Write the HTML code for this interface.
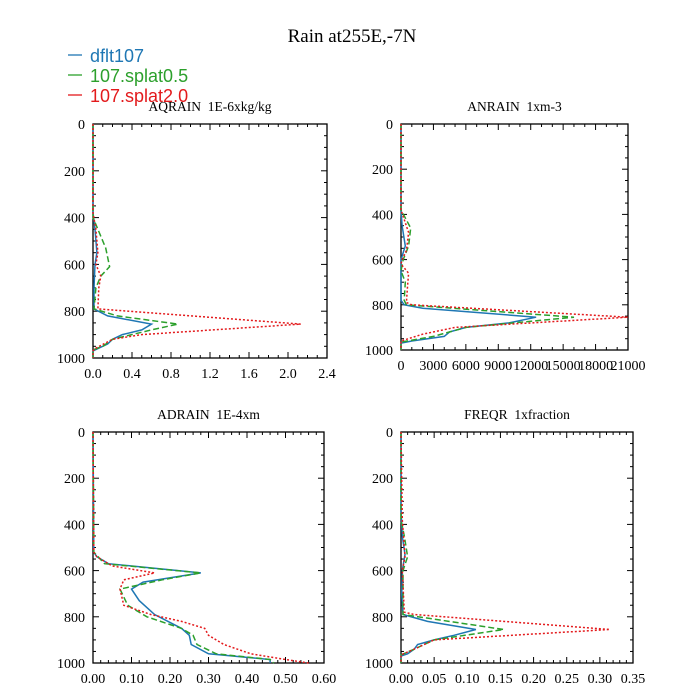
<!DOCTYPE html>
<html><head><meta charset="utf-8"><style>
body{margin:0;background:#fff;width:700px;height:700px;overflow:hidden}
svg{display:block}
</style></head><body>
<svg id="c" width="700" height="700" xmlns="http://www.w3.org/2000/svg">
<text x="352" y="42" text-anchor="middle" font-family="Liberation Serif, serif" font-size="19">Rain at255E,-7N</text>
<g font-family="Liberation Sans, sans-serif" font-size="18">
<g><line x1="68" y1="55" x2="82" y2="55" stroke="#1f77b4" stroke-width="1.3"/><text x="90" y="62" fill="#1f77b4">dflt107</text></g>
<g><line x1="68" y1="75" x2="82" y2="75" stroke="#2ca02c" stroke-width="1.3"/><text x="90" y="82" fill="#2ca02c">107.splat0.5</text></g>
<g><line x1="68" y1="95" x2="82" y2="95" stroke="#e31a1c" stroke-width="1.3"/><text x="90" y="102" fill="#e31a1c">107.splat2.0</text></g>
</g>
</svg>
<script>
// AQRAIN
const aqP_b=[0,380,450,550,600,700,790,820,855,880,900,920,940,960,970,1000];
const aqV_b=[0,0,0.02,0.04,0.02,0.01,0.01,0.15,0.6,0.5,0.3,0.2,0.15,0.05,0,0];
const aqP_g=[0,400,450,530,610,650,700,790,820,855,880,910,920,950,965,1000];
const aqV_g=[0,0,0.05,0.13,0.17,0.08,0.03,0.01,0.25,0.87,0.6,0.3,0.2,0.1,0,0];
const aqP_r=[0,380,450,550,600,650,700,790,855,900,920,960,970,1000];
const aqV_r=[0,0,0.03,0.05,0.03,0.08,0.06,0.05,2.13,0.5,0.2,0.02,0,0];
// ANRAIN
const anP_b=[0,380,450,540,600,780,800,815,855,880,900,920,940,960,970,1000];
const anV_b=[0,0,100,400,0,0,300,2000,12500,10000,6000,4500,4000,1000,0,0];
const anP_g=[0,380,460,540,600,650,700,780,800,855,900,940,965,1000];
const anV_g=[0,0,900,700,200,0,400,300,500,16000,6000,3000,0,0];
const anP_r=[0,380,480,560,600,620,660,720,790,800,855,900,930,960,1000];
const anV_r=[0,0,700,500,100,0,700,600,500,1000,21000,5000,2000,0,0];
// ADRAIN
const adP_b=[0,520,540,570,610,650,680,730,790,850,880,920,960,985,1000];
const adV_b=[0,0.002,0.01,0.04,0.28,0.13,0.1,0.12,0.16,0.23,0.25,0.255,0.3,0.46,0.46];
const adP_g=[0,520,570,610,640,680,750,800,850,880,920,960,985,1000];
const adV_g=[0,0.002,0.03,0.28,0.18,0.07,0.09,0.14,0.23,0.26,0.27,0.32,0.46,0.47];
const adP_r=[0,520,540,580,610,640,680,750,790,820,850,880,920,960,985,1000];
const adV_r=[0,0.002,0.01,0.05,0.16,0.08,0.07,0.08,0.15,0.23,0.29,0.3,0.34,0.41,0.5,0.56];
// FREQR
const frP_b=[0,340,450,530,600,700,790,820,855,880,900,920,940,960,970,1000];
const frV_b=[0,0,0.002,0.006,0.002,0.001,0.003,0.04,0.113,0.08,0.05,0.025,0.02,0.01,0,0];
const frP_g=[0,380,450,540,600,790,855,900,940,965,1000];
const frV_g=[0,0,0.005,0.01,0.003,0.003,0.155,0.05,0.02,0,0];
const frP_r=[0,380,540,600,780,790,855,900,940,965,1000];
const frV_r=[0,0.002,0.006,0.002,0.005,0.02,0.315,0.05,0.02,0,0];

const xt1=["0.0","0.4","0.8","1.2","1.6","2.0","2.4"];
const xt2=["0","3000","6000","9000","12000","15000","18000","21000"];
const xt3=["0.00","0.10","0.20","0.30","0.40","0.50","0.60"];
const xt4=["0.00","0.05","0.10","0.15","0.20","0.25","0.30","0.35"];
const yt=["0","200","400","600","800","1000"];

const svg=document.getElementById('c');
const NS='http://www.w3.org/2000/svg';
function mk(t,a,p){const e=document.createElementNS(NS,t);for(const k in a)e.setAttribute(k,a[k]);p.appendChild(e);return e;}
const styles={b:{stroke:'#1f77b4',dash:''},g:{stroke:'#2ca02c',dash:'6,3'},r:{stroke:'#e31a1c',dash:'2,2'}};
function panel(name,title,L,R,T,B,xmax,xticks,xminor,series){
  const g=mk('g',{},svg);
  
  
  const sx=v=>L+v/xmax*(R-L), sy=p=>T+p/1000*(B-T);
  const tt=mk('text',{x:(L+R)/2,y:T-13,'text-anchor':'middle','font-family':'Liberation Serif, serif','font-size':13.5,'xml:space':'preserve'},g);
  tt.style.whiteSpace='pre';
  tt.textContent=title;
  
  
  const ax=mk('g',{stroke:'#000','stroke-width':1},g);
  
  
  mk('rect',{x:L,y:T,width:R-L,height:B-T,fill:'none','stroke-width':1.3},ax);
  for(let p=0;p<=1000;p+=50){const y=sy(p),len=p%200==0?6:3;
    mk('line',{x1:L,y1:y,x2:L+len,y2:y},ax);mk('line',{x1:R,y1:y,x2:R-len,y2:y},ax);}
  const nmaj=xticks.length-1, step=xmax/nmaj;
  for(let i=0;i<=nmaj*xminor;i++){const v=i*step/xminor,x=sx(v),len=i%xminor==0?6:3;
    mk('line',{x1:x,y1:T,x2:x,y2:T+len},ax);mk('line',{x1:x,y1:B,x2:x,y2:B-len},ax);}
  xticks.forEach((s,i)=>{const t=mk('text',{x:sx(i*step),y:B+20,'text-anchor':'middle','font-family':'Liberation Serif, serif','font-size':14},g);t.textContent=s;
    
    });
  yt.forEach(s=>{const t=mk('text',{x:L-8,y:sy(+s)+5,'text-anchor':'end','font-family':'Liberation Serif, serif','font-size':14},g);t.textContent=s;
    
    });
  series.forEach(([k,P,V])=>{
    const d=P.map((p,i)=>(i?'L':'M')+sx(V[i]).toFixed(1)+','+sy(p).toFixed(1)).join('');
    const pa=mk('path',{d:d,fill:'none',stroke:styles[k].stroke,'stroke-width':1.5,'stroke-dasharray':styles[k].dash},g);
    
    
  });
}
panel('aqrain','AQRAIN  1E-6xkg/kg',93,327,124,358,2.4,xt1,4,[['b',aqP_b,aqV_b],['g',aqP_g,aqV_g],['r',aqP_r,aqV_r]]);
panel('anrain','ANRAIN  1xm-3',401,628,124,350,21000,xt2,3,[['b',anP_b,anV_b],['g',anP_g,anV_g],['r',anP_r,anV_r]]);
panel('adrain','ADRAIN  1E-4xm',93,324,432,663,0.6,xt3,5,[['b',adP_b,adV_b],['g',adP_g,adV_g],['r',adP_r,adV_r]]);
panel('freqr','FREQR  1xfraction',401,633,432,663,0.35,xt4,5,[['b',frP_b,frV_b],['g',frP_g,frV_g],['r',frP_r,frV_r]]);
</script>
</body></html>
